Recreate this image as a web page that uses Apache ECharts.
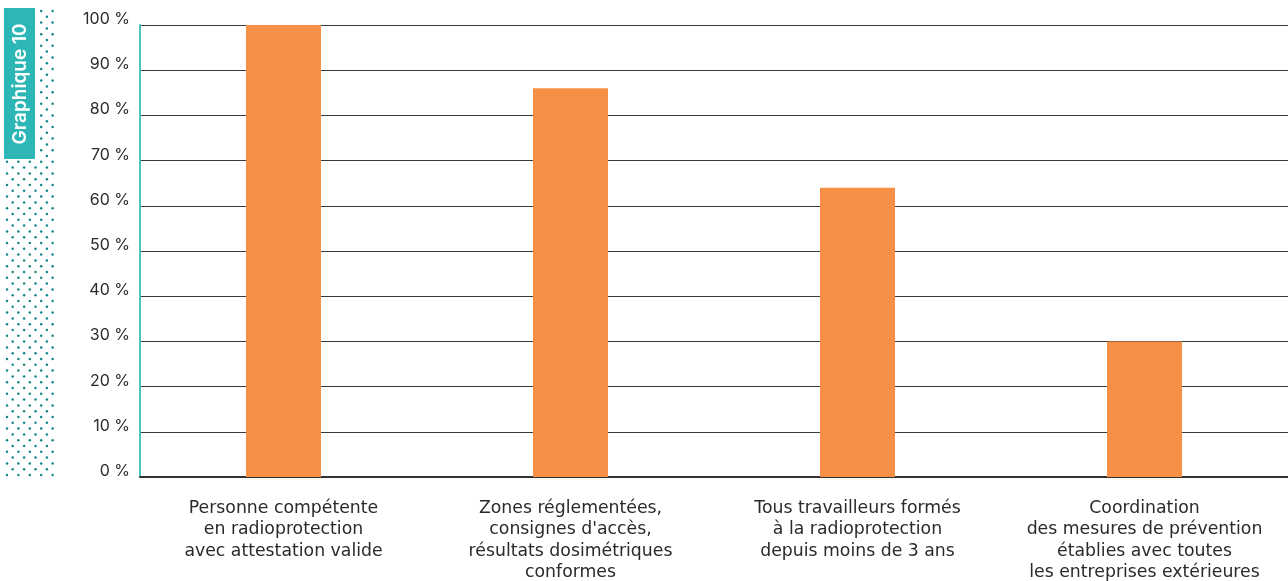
<!DOCTYPE html>
<html><head><meta charset="utf-8">
<script src="https://cdn.jsdelivr.net/npm/echarts@6/dist/echarts.min.js"></script>
<style>html,body{margin:0;padding:0;background:#fff}#c{width:1288px;height:581px}</style>
</head><body><div id="c"></div>
<script>
const categories = [
  "Personne compétente\nen radioprotection\navec attestation valide",
  "Zones réglementées,\nconsignes d'accès,\nrésultats dosimétriques\nconformes",
  "Tous travailleurs formés\nà la radioprotection\ndepuis moins de 3 ans",
  "Coordination\ndes mesures de prévention\nétablies avec toutes\nles entreprises extérieures"
];
const values = [100, 86, 64, 30];
const yTicks = [0, 10, 20, 30, 40, 50, 60, 70, 80, 90, 100];
const sideTitle = "Graphique 10";

const FONT = "Inter";
const graphics = [];
// dotted decoration
for (let r = 0; r < 81; r++) {
  const y = 11 + r * 5.8;
  const off = (r % 2) ? 5.7 : 0;
  for (let c = 0; c < 5; c++) {
    const x = 7 + off + c * 11.4;
    if (x > 53) continue;
    if (y < 161 && x < 38) continue;
    graphics.push({type:'circle', shape:{cx:x, cy:y, r:1.25}, style:{fill:'#158688'}, silent:true});
  }
}
graphics.push({type:'rect', shape:{x:4, y:8, width:31, height:151}, style:{fill:'#2db6b6'}});
graphics.push({type:'text', x:20, y:84, rotation:Math.PI/2,
  style:{text:sideTitle, fill:'#fff', font:'600 19px ' + FONT, align:'center', verticalAlign:'middle'}});

const chart = echarts.init(document.getElementById('c'));
chart.setOption({
  animation:false,
  grid:{left:140, right:0, top:25, bottom:104, containLabel:false, outerBoundsMode:'none'},
  graphic: graphics,
  xAxis:{type:'category', data:categories,
    axisLine:{lineStyle:{color:'#333', width:2}},
    axisTick:{show:false},
    axisLabel:{interval:0, color:'#2a2a2a', fontSize:17.3, lineHeight:21.3, margin:21, fontFamily:'DejaVu Sans'}
  },
  yAxis:{type:'value', min:0, max:100, interval:10,
    axisLine:{show:true, lineStyle:{color:'#4cc4c4', width:2}},
    axisTick:{show:false},
    splitLine:{lineStyle:{color:'#3a3a3a', width:1}},
    axisLabel:{formatter: v => yTicks.includes(v) ? v + ' %' : '', color:'#2a2a2a', fontSize:16, margin:10,
      verticalAlign:'bottom', lineHeight:11.5, fontFamily:FONT}
  },
  series:[{type:'bar', data:values, barWidth:75, itemStyle:{color:'#f79046'}}]
});
</script></body></html>
